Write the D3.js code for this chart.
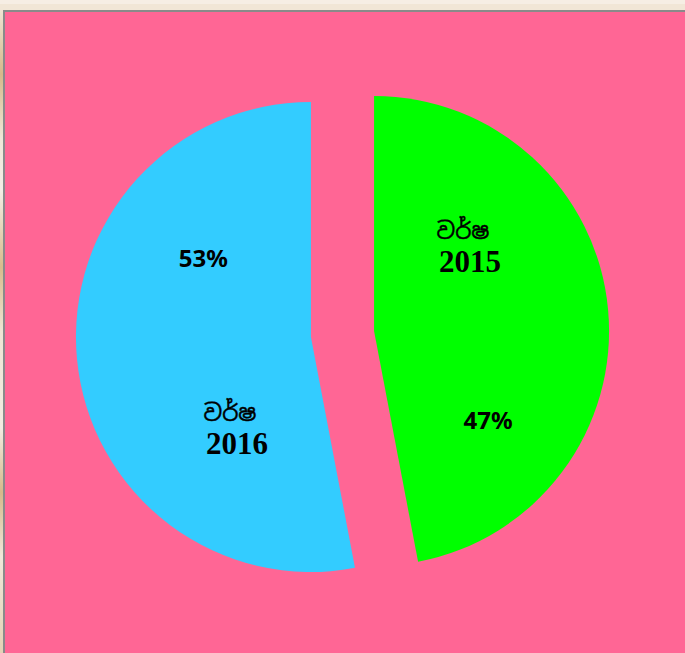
<!DOCTYPE html>
<html><head><meta charset="utf-8">
<script src="https://cdn.jsdelivr.net/npm/d3@7"></script>
<style>html,body{margin:0;padding:0;background:#f1e6d6;overflow:hidden}</style>
</head><body>
<svg id="c" width="685" height="653"></svg>
<script>
const categories = ["වර්ෂ 2015", "වර්ෂ 2016"];
const values = [47, 53];
const colors = ["#00FF00", "#33CCFF"];

const svg = d3.select("#c");
// page backdrop
svg.append("rect").attr("x",0).attr("y",0).attr("width",685).attr("height",4).attr("fill","#f6eee4");
const lg = svg.append("defs").append("linearGradient").attr("id","lg").attr("x1",0).attr("y1",0).attr("x2",0).attr("y2",1);
[[0,"#efe4d4"],[0.1,"#d7b88a"],[0.2,"#efe6d8"],[0.28,"#f4eee6"],[0.4,"#d9bb8c"],[0.5,"#efe4d4"],[0.65,"#f3ece2"],[0.75,"#d7b88a"],[0.85,"#f0e7da"],[1,"#e5d2b5"]]
  .forEach(([o,c])=>lg.append("stop").attr("offset",o).attr("stop-color",c));
svg.append("rect").attr("x",0).attr("y",10).attr("width",3).attr("height",643).attr("fill","url(#lg)");
// chart panel
svg.append("rect").attr("x",4).attr("y",11).attr("width",690).attr("height",660)
  .attr("fill","#FF6695").attr("stroke","#8a8a8a").attr("stroke-width",2);

const cx = 342.5, cy = 334, R = 235, explode = 31.7;
const pie = d3.pie().sort(null).value(d => d)(values);
const arc = d3.arc().innerRadius(0).outerRadius(R);
const labelFrac = [[0.29, 0.757],[0.258, 0.717]]; // [category, percent] positions within slice
const labelDist = [[127, 145],[119, 133]];

pie.forEach((p, i) => {
  const mid = (p.startAngle + p.endAngle) / 2;
  const ox = cx + explode * Math.sin(mid), oy = cy - explode * Math.cos(mid);
  const g = svg.append("g").attr("transform", `translate(${ox},${oy})`);
  g.append("path").attr("d", arc(p)).attr("fill", colors[i]);
  const span = p.endAngle - p.startAngle;
  const aC = p.startAngle + span * labelFrac[i][0];
  const aP = p.startAngle + span * labelFrac[i][1];
  const lx = labelDist[i][0] * Math.sin(aC), ly = -labelDist[i][0] * Math.cos(aC);
  const parts = categories[i].split(" ");
  const t = g.append("text").attr("x", lx).attr("y", ly).attr("text-anchor","middle").attr("fill","#000");
  t.append("tspan").attr("x", lx - 7).attr("dy", -9).style("font-family","'Noto Sans Sinhala','Iskoola Pota','Noto Sans',sans-serif").style("font-size","23px")
    .attr("stroke","#000").attr("stroke-width",0.4).text(parts[0]);
  t.append("tspan").attr("x", lx).attr("dy", 33).style("font-family","'Liberation Serif','Times New Roman',serif").style("font-weight","700").style("font-size","31px").text(parts[1]);
  const px = labelDist[i][1] * Math.sin(aP), py = -labelDist[i][1] * Math.cos(aP);
  g.append("text").attr("x", px).attr("y", py).attr("dy","0.35em").attr("text-anchor","middle")
    .style("font-family","'Noto Sans', 'Open Sans', sans-serif").style("font-weight","700").style("font-size","24px")
    .attr("fill","#000").text(values[i] + "%");
});
</script>
</body></html>
